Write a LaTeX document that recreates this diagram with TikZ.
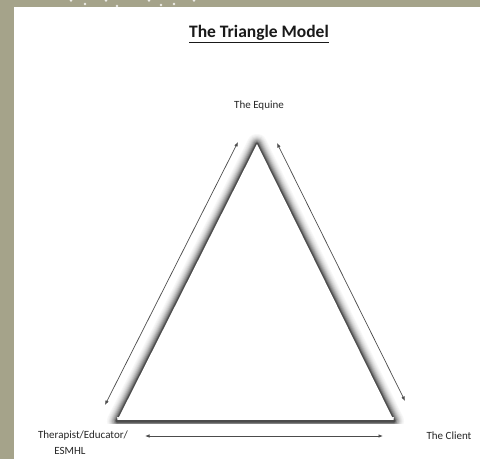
\documentclass[tikz,border=0pt]{standalone}
\usepackage{fontspec}
\setmainfont{Carlito}
\begin{document}
\begin{tikzpicture}[x=1pt,y=-1pt,
  lbl/.style={font=\fontsize{11}{13}\selectfont, text=black!85, inner sep=0pt, align=center},
  conn/.style={draw=black!70, line width=0.7pt, {Latex[length=4.5pt,width=3.5pt]}-{Latex[length=4.5pt,width=3.5pt]}}]
\usetikzlibrary{arrows.meta}
\useasboundingbox (0,0) rectangle (480,459);
\fill[fill={rgb,255:red,165;green,163;blue,138}] (0,0) rectangle (480,459);
\fill[white] (14,7) rectangle (480,459);
% dots on top strip
\foreach \p in {(71,0.5),(85,4),(106,0.5),(117,6),(149,0.5),(161,5),(174,4),(194,0.5)}
  \fill[white, opacity=0.8] \p circle (1.3);
% title
\node[font=\fontsize{17.5}{20}\selectfont\bfseries, inner sep=0pt, text=black!90] (title) at (259,34) {\underline{The Triangle Model}};
% triangle corners
\coordinate (A) at (257,144);
\coordinate (B) at (117,421);
\coordinate (C) at (394,421);
% glow layers (outer side only, none below the base)
\begin{scope}
  \clip (0,0) rectangle (480,423);
  \foreach \w/\c in {20/3,18/6,16/10,14/15,12/21,10/29,8/38,6/48,4/60,2.5/70}
    \draw[line width=\w pt, line join=round, draw=black!\c] (A) -- (B) -- (C) -- cycle;
\end{scope}
\foreach \d/\c in {3.5/8,2.8/18,2/35}
  \draw[line width=1pt, draw=black!\c] ([yshift=\d pt]B) -- ([yshift=\d pt]C);
\fill[white] (A) -- (B) -- (C) -- cycle;
\draw[line width=2pt, draw=black!70] (B) -- (C);
% labels
\node[lbl] (eq) at (259,106) {The Equine};
\node[lbl] (th) at (83,436) {Therapist/Educator/};
\node[lbl] (es) at (70,451) {ESMHL};
\node[lbl] (cl) at (449,436) {The Client};
% connector end points
\coordinate (l1) at (105,405);
\coordinate (l2) at (238,142);
\coordinate (r1) at (277,143);
\coordinate (r2) at (405,401);
\coordinate (b1) at (145,436);
\coordinate (b2) at (383,436);
\draw[conn] (l1) -- (l2);
\draw[conn] (r1) -- (r2);
\draw[conn] (b1) -- (b2);
\end{tikzpicture}
\end{document}
